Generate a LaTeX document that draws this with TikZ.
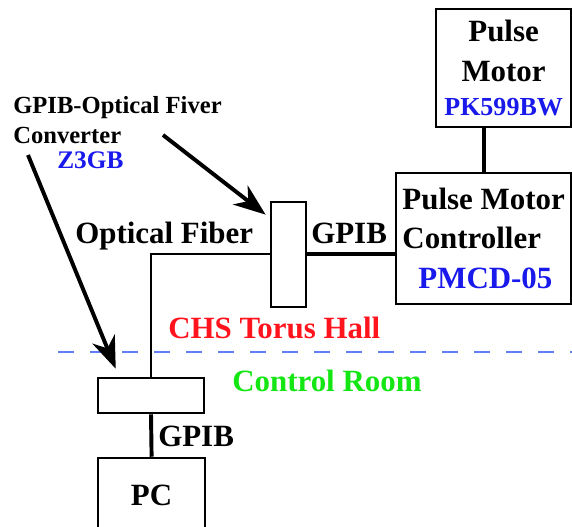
\documentclass[tikz,border=0pt]{standalone}
\usepackage{fontspec}
\setmainfont{Liberation Serif}
\usetikzlibrary{arrows.meta}
\definecolor{modelblue}{RGB}{25,25,235}
\definecolor{hallred}{RGB}{255,20,30}
\definecolor{roomgreen}{RGB}{20,230,20}
\definecolor{borderblue}{RGB}{95,125,245}
\begin{document}
\begin{tikzpicture}[
    every node/.style={inner sep=0pt, font=\bfseries\fontsize{22}{28}\selectfont},
    box/.style={draw, line width=1.8pt, align=center},
    small/.style={font=\bfseries\fontsize{17.5}{21}\selectfont},
    fiber/.style={line width=1.4pt},
    gpib/.style={line width=2.8pt},
    pointer/.style={line width=2.8pt, -{Stealth[length=0.8cm, width=0.6cm, inset=0.25cm]}}]
    \clip (0,0) rectangle (14.3,13.15);

    % Torus Hall side
    \node[box, minimum width=3.375cm, minimum height=2.95cm] (motor) at (12.59,11.45)
        {Pulse\\Motor\\[-3.8pt]{\fontsize{18.5}{20}\selectfont\color{modelblue}PK599BW}};
    \node[box, align=left, minimum width=4.375cm, minimum height=3.275cm] (ctrl) at (12.09,7.19)
        {Pulse Motor\\Controller\\\hspace*{0.4cm}{\color{modelblue}PMCD-05}};
    \node[box, minimum width=0.875cm, minimum height=2.625cm] (conv) at (7.21,6.79) {};
    \draw[gpib] (motor.south -| ctrl.north) -- (ctrl.north);
    \draw[gpib] (conv.east) -- (conv.east -| ctrl.west);
    \node[anchor=base west] (gpibup) at (7.775,7.075) {GPIB};
    \node[anchor=base west] (fiberlbl) at (1.875,7.075) {Optical Fiber};
    \node[anchor=base west, text=hallred] (hall) at (4.2,4.7) {CHS Torus Hall};

    % border between the rooms
    \draw[borderblue, line width=2pt, dash pattern=on 0.4cm off 0.4cm] (1.45,4.35) -- (14.3,4.35);

    % Control Room side
    \node[anchor=base west, text=roomgreen] (room) at (5.8,3.375) {Control Room};
    \node[box, minimum width=2.65cm, minimum height=0.875cm] (lconv) at (3.775,3.2625) {};
    \node[box, minimum width=2.675cm, minimum height=1.85cm] (pc) at (3.79,0.775) {PC};
    \draw[fiber] (conv.west) -| (lconv.north);
    \draw[gpib] (lconv.south) -- (pc.north);
    \node[anchor=base west] (gpiblow) at (3.95,2.0) {GPIB};

    % converter labels
    \node[small, anchor=base west] (convlbl) at (0.325,10.325) {GPIB-Optical Fiver};
    \node[small, anchor=base west] (convlbltwo) at (0.325,9.575) {Converter};
    \node[anchor=base west, font=\bfseries\fontsize{18}{20}\selectfont, text=modelblue] (z3gb) at (1.425,8.95) {Z3GB};
    \coordinate (tailone) at (0.7,9.275);
    \coordinate (tailtwo) at (4.075,9.775);
    \draw[pointer] (tailone) -- ([shift={(0.475,0.2)}]lconv.north west);
    \draw[pointer] (tailtwo) -- ([shift={(-0.1,-0.35)}]conv.north west);
\end{tikzpicture}
\end{document}
